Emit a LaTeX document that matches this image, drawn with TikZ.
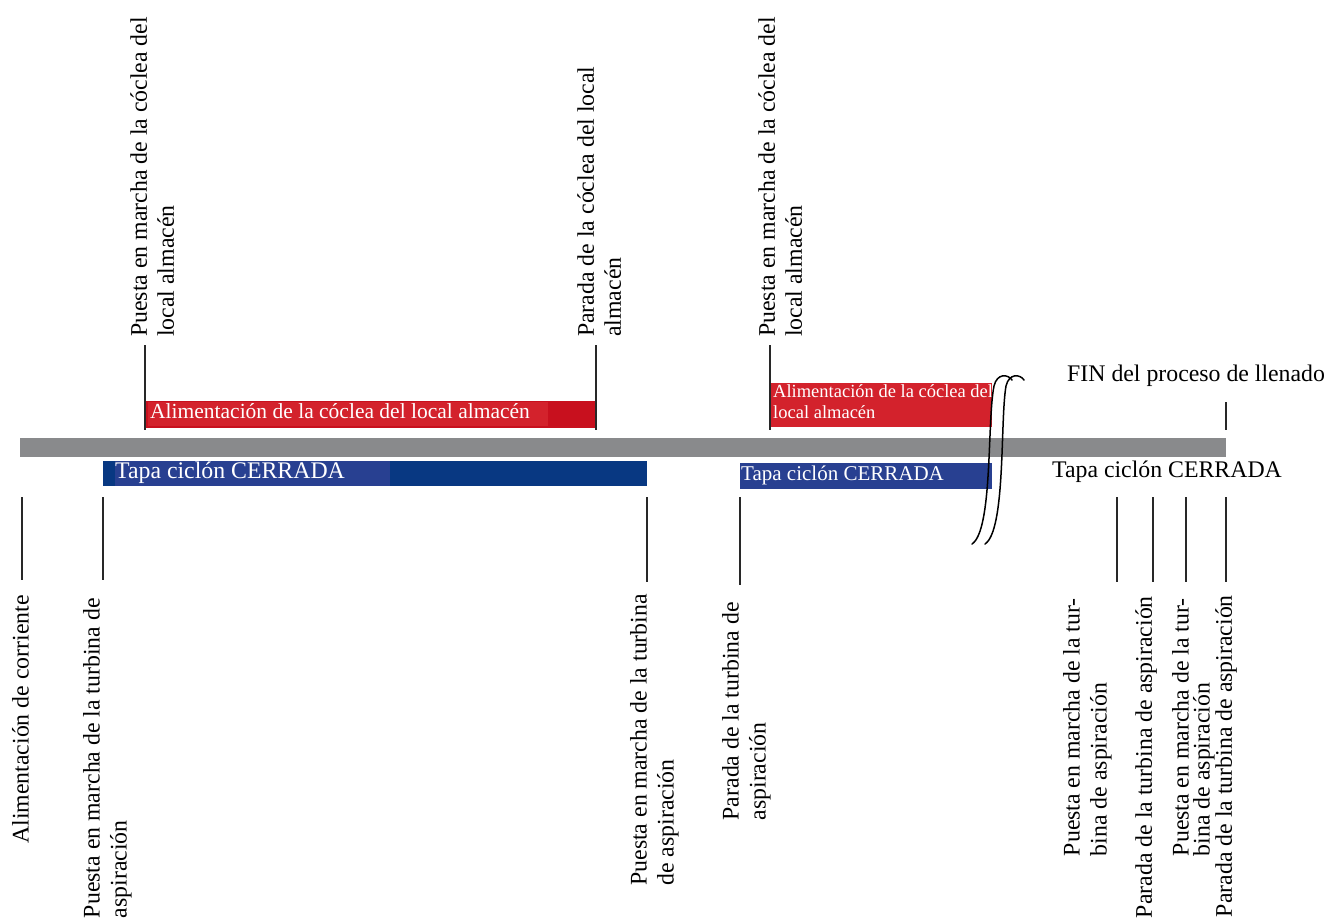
\documentclass[tikz,border=0pt]{standalone}
\usepackage{fontspec}
\setmainfont{Liberation Serif}
\usetikzlibrary{positioning}
\definecolor{barred}{RGB}{200,16,30}
\definecolor{boxred}{RGB}{211,34,44}
\definecolor{barblue}{RGB}{8,56,130}
\definecolor{boxblue}{RGB}{40,64,145}
\definecolor{axisgray}{RGB}{137,138,140}
\definecolor{tickgray}{RGB}{40,40,40}
\newcommand{\lblfont}{\fontsize{23.8}{27}\selectfont}
\tikzset{
  tick/.style={draw=tickgray, line width=2.4pt},
  uplabel/.style={rotate=90, anchor=north west, align=left, inner sep=0pt, font=\lblfont},
  downlabel/.style={rotate=90, anchor=north east, align=left, inner sep=0pt, font=\lblfont},
  barlabel/.style={anchor=base west, inner sep=0pt, text=white},
  brk/.style={draw=black, line width=1.5pt, line cap=round}
}

\begin{document}
\begin{tikzpicture}[x=1pt, y=-1pt]
  \useasboundingbox (0,0) rectangle (1329,922);

  % time axis
  \fill[axisgray] (20,438) rectangle (1226,457);

  % coclea bars (above the axis)
  \fill[barred] (145,401) rectangle (596,428);
  \fill[boxred] (148,402) rectangle (548,426);
  \node[barlabel, font=\fontsize{21.5}{24}\selectfont] (coclea1) at (150,418) {Alimentación de la cóclea del local almacén};
  \fill[boxred] (770,383) rectangle (992,427);
  \node[barlabel, anchor=north west, align=left, font=\fontsize{18.5}{21}\selectfont] (coclea2) at (773,384) {Alimentación de la cóclea del\\local almacén};

  % tapa bars (below the axis)
  \fill[barblue] (103,461) rectangle (647,486);
  \fill[boxblue] (115,461) rectangle (390,486);
  \node[barlabel, font=\lblfont] (tapa1) at (115,478) {Tapa ciclón CERRADA};
  \fill[boxblue] (740,463) rectangle (992,489);
  \node[barlabel, font=\fontsize{21}{24}\selectfont] (tapa2) at (741,480) {Tapa ciclón CERRADA};
  \node[font=\lblfont, inner sep=0pt] (tapa3) at (1167,472) {Tapa ciclón CERRADA};
  \node[font=\lblfont, inner sep=0pt, anchor=west] (fin) at (1067,376) {FIN del proceso de llenado};

  % ticks above
  \foreach \x in {145,596,770}
    \draw[tick] (\x,345) -- (\x,430);
  \draw[tick] (1226,402) -- (1226,430);

  % ticks below
  \foreach \x/\yb in {22/580,103/580,647/582,740/585,1117/582,1153/582,1186/582,1226/582}
    \draw[tick] (\x,497) -- (\x,\yb);

  % break mark
  \draw[brk] (972,544) .. controls (993,530) and (987,420) .. (994,386)
    .. controls (997,373) and (1008,374) .. (1012,380);
  \draw[brk] (985,544) .. controls (1006,530) and (1000,420) .. (1006,386)
    .. controls (1009,373) and (1020,374) .. (1024,380);

  % labels above
  \node[uplabel] (on1) at (130,337) {Puesta en marcha de la cóclea del\\local almacén};
  \node[uplabel] (off1) at (577,337) {Parada de la cóclea del local\\almacén};
  \node[uplabel] (on2) at (758,337) {Puesta en marcha de la cóclea del\\local almacén};

  % labels below
  \node[downlabel] (power) at (12,595) {Alimentación de corriente};
  \node[downlabel] (turb1) at (83,598) {Puesta en marcha de la turbina de\\aspiración};
  \node[downlabel] (turb2) at (630,594) {Puesta en marcha de la turbina\\de aspiración};
  \node[downlabel] (stop2) at (722,602) {Parada de la turbina de\\aspiración};
  \node[downlabel] (turb3) at (1063,598) {Puesta en marcha de la tur-\\bina de aspiración};
  \node[downlabel] (stop3) at (1135,596) {Parada de la turbina de aspiración};
  \node[downlabel, font=\fontsize{23.8}{21}\selectfont] (turb4) at (1172,598) {Puesta en marcha de la tur-\\bina de aspiración};
  \node[downlabel] (stop4) at (1215,595) {Parada de la turbina de aspiración};
\end{tikzpicture}
\end{document}
